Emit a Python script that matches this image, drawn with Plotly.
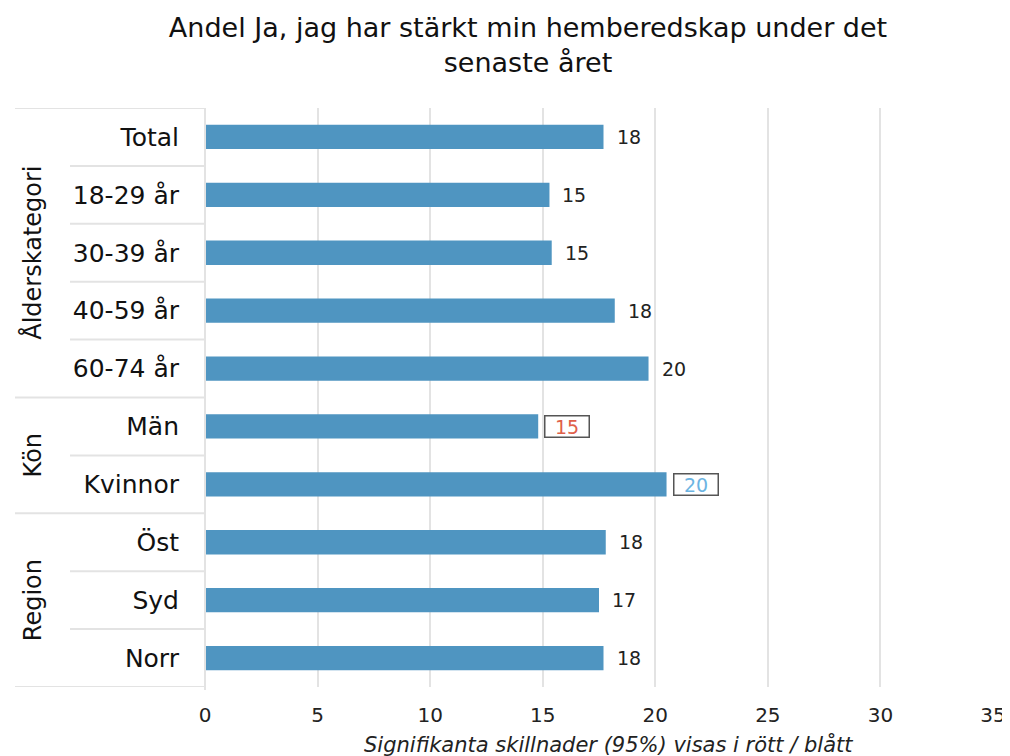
import plotly.graph_objects as go

categories = ["Total", "18-29 år", "30-39 år", "40-59 år", "60-74 år",
              "Män", "Kvinnor", "Öst", "Syd", "Norr"]
values = [17.7, 15.3, 15.4, 18.2, 19.7, 14.8, 20.5, 17.8, 17.5, 17.7]
labels = ["18", "15", "15", "18", "20", "15", "20", "18", "17", "18"]
# significance: 0 = none, -1 = lower (red), 1 = higher (blue)
signif = [0, 0, 0, 0, 0, -1, 1, 0, 0, 0]
groups = ["Ålderskategori", "Kön", "Region"]
group_sizes = [5, 2, 3]
x_ticks = [0, 5, 10, 15, 20, 25, 30, 35]

FONT = "DejaVu Sans"
BAR = "#4f95c1"
RED = "#e0604a"
BLUE = "#6cb4e2"

ypos = list(range(len(categories)))

fig = go.Figure()
fig.add_trace(go.Bar(
    x=values, y=ypos, orientation="h", width=0.42,
    marker=dict(color=BAR, line=dict(width=0)),
    hoverinfo="skip",
))

annotations = []
for v, y, lab, s in zip(values, ypos, labels, signif):
    if s == 0:
        annotations.append(dict(x=v, y=y, xref="x", yref="y", text=lab,
                                showarrow=False, xanchor="left", xshift=11,
                                font=dict(family=FONT, size=19, color="#222")))
    else:
        annotations.append(dict(x=v, y=y, xref="x", yref="y", text=lab,
                                showarrow=False, xanchor="left", xshift=6,
                                font=dict(family=FONT, size=19,
                                          color=RED if s < 0 else BLUE),
                                bordercolor="#555", borderwidth=1.5,
                                borderpad=1, bgcolor="white",
                                width=41, height=18))

shapes = []
PW = 788.0
x_outer = (7 - 197) / PW
x_inner = (62 - 197) / PW
start = 0
bounds_outer = [-0.5]
for gname, gs in zip(groups, group_sizes):
    center = start + (gs - 1) / 2
    annotations.append(dict(x=(25 - 197) / PW, y=center, xref="paper", yref="y",
                            text=gname, textangle=-90, showarrow=False,
                            xanchor="center", yanchor="middle",
                            font=dict(family=FONT, size=24, color="#111")))
    for k in range(1, gs):
        b = start + k - 0.5
        shapes.append(dict(type="line", xref="paper", yref="y", x0=x_inner, x1=0,
                           y0=b, y1=b, line=dict(color="#e3e3e3", width=2)))
    start += gs
    bounds_outer.append(start - 0.5)
for b in bounds_outer:
    shapes.append(dict(type="line", xref="paper", yref="y", x0=x_outer, x1=0,
                       y0=b, y1=b, line=dict(color="#e3e3e3", width=2)))
shapes.append(dict(type="line", xref="paper", yref="paper", x0=0, x1=0,
                   y0=-0.005, y1=1, line=dict(color="#e3e3e3", width=2)))

annotations.append(dict(x=(600 - 197) / PW, y=-0.1, xref="paper", yref="paper",
                        text="<i>Signifikanta skillnader (95%) visas i rött / blått</i>",
                        showarrow=False, xanchor="center", yanchor="middle",
                        font=dict(family=FONT, size=21, color="#222")))

fig.update_layout(
    width=1010, height=756,
    margin=dict(l=197, r=25, t=100, b=77),
    paper_bgcolor="white", plot_bgcolor="white",
    showlegend=False,
    title=dict(text="Andel Ja, jag har stärkt min hemberedskap under det<br>senaste året",
               x=520 / 1010, xanchor="center", y=0.962, yanchor="top",
               font=dict(family=FONT, size=27, color="#111")),
    xaxis=dict(range=[0, 35], tickvals=x_ticks, showgrid=True,
               gridcolor="#e3e3e3", gridwidth=2, zeroline=False,
               showline=False, ticks="", ticklen=0, ticklabelstandoff=14,
               tickfont=dict(family=FONT, size=20, color="#222")),
    yaxis=dict(range=[9.5, -0.5], tickvals=ypos, ticktext=categories,
               showgrid=False, zeroline=False, showline=False,
               ticks="outside", ticklen=20, tickcolor="white",
               tickfont=dict(family=FONT, size=25, color="#111")),
    annotations=annotations, shapes=shapes,
)

fig.write_html("out.html")
